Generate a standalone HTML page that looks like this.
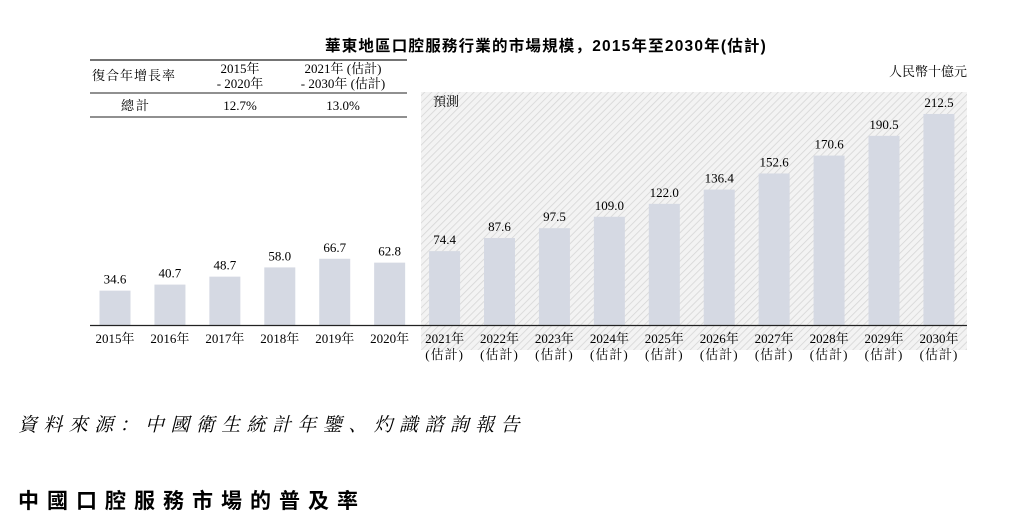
<!DOCTYPE html>
<html><head><meta charset="utf-8"><style>
body{margin:0;background:#fff;width:1022px;height:528px;overflow:hidden;position:relative;font-family:"Liberation Serif","Noto Serif CJK SC",serif;color:#222}
.a{position:absolute;white-space:nowrap}
</style></head><body>
<svg class="a" style="left:0;top:0" width="1022" height="528" font-family="Liberation Serif, Noto Serif CJK SC, serif">
<defs><pattern id="h" width="5" height="5" patternUnits="userSpaceOnUse" patternTransform="rotate(45)"><rect width="5" height="5" fill="#f3f3f3"/><line x1="0" y1="0" x2="0" y2="5" stroke="#d6d6d6" stroke-width="1.6"/></pattern></defs>
<rect x="421" y="92" width="546" height="258" fill="url(#h)"/>
<text x="546" y="51" text-anchor="middle" font-size="15.5" font-weight="bold" letter-spacing="1.2" font-family="Liberation Sans, Noto Sans CJK SC, sans-serif">華東地區口腔服務行業的市場規模，2015年至2030年(估計)</text>
<line x1="90" y1="60" x2="407" y2="60" stroke="#222" stroke-width="1.2"/>
<line x1="90" y1="93" x2="407" y2="93" stroke="#222" stroke-width="1"/>
<line x1="90" y1="117" x2="407" y2="117" stroke="#222" stroke-width="1"/>
<g font-size="13" text-anchor="middle">
<text x="134" y="80" letter-spacing="1">復合年增長率</text>
<text x="240" y="73">2015年</text><text x="240" y="88">- 2020年</text>
<text x="343" y="73">2021年 (估計)</text><text x="343" y="88">- 2030年 (估計)</text>
<text x="136" y="110" letter-spacing="2">總計</text><text x="240" y="110">12.7%</text><text x="343" y="110">13.0%</text>
</g>
<text x="433" y="106" font-size="13">預測</text>
<text x="967" y="76" font-size="13" text-anchor="end">人民幣十億元</text>
<g id="bars"></g>
<line x1="90" y1="325.5" x2="967" y2="325.5" stroke="#222" stroke-width="1.3"/>
<text x="18" y="431" font-size="19" font-style="italic" letter-spacing="6.4">資料來源：中國衛生統計年鑒、灼識諮詢報告</text>
<text x="18" y="508" font-size="21" font-weight="bold" letter-spacing="8" font-family="Liberation Sans, Noto Sans CJK SC, sans-serif">中國口腔服務市場的普及率</text>
</svg>
<script>
var v=[34.6,40.7,48.7,58.0,66.7,62.8,74.4,87.6,97.5,109.0,122.0,136.4,152.6,170.6,190.5,212.5];
var g=document.getElementById('bars'),s='';
for(var i=0;i<16;i++){var c=115+i*54.93,h=v[i]*0.993,y=325-h;
s+='<rect x="'+(c-15.5)+'" y="'+y+'" width="31" height="'+h+'" fill="#d5d9e3"/>';
s+='<text x="'+c+'" y="'+(y-7)+'" font-size="13" text-anchor="middle">'+v[i].toFixed(1)+'</text>';
s+='<text x="'+c+'" y="343" font-size="13" text-anchor="middle">'+(2015+i)+'年</text>';
if(i>5)s+='<text x="'+c+'" y="359" font-size="13" text-anchor="middle" letter-spacing="1">(估計)</text>';}
g.innerHTML=s;
</script>
</body></html>
